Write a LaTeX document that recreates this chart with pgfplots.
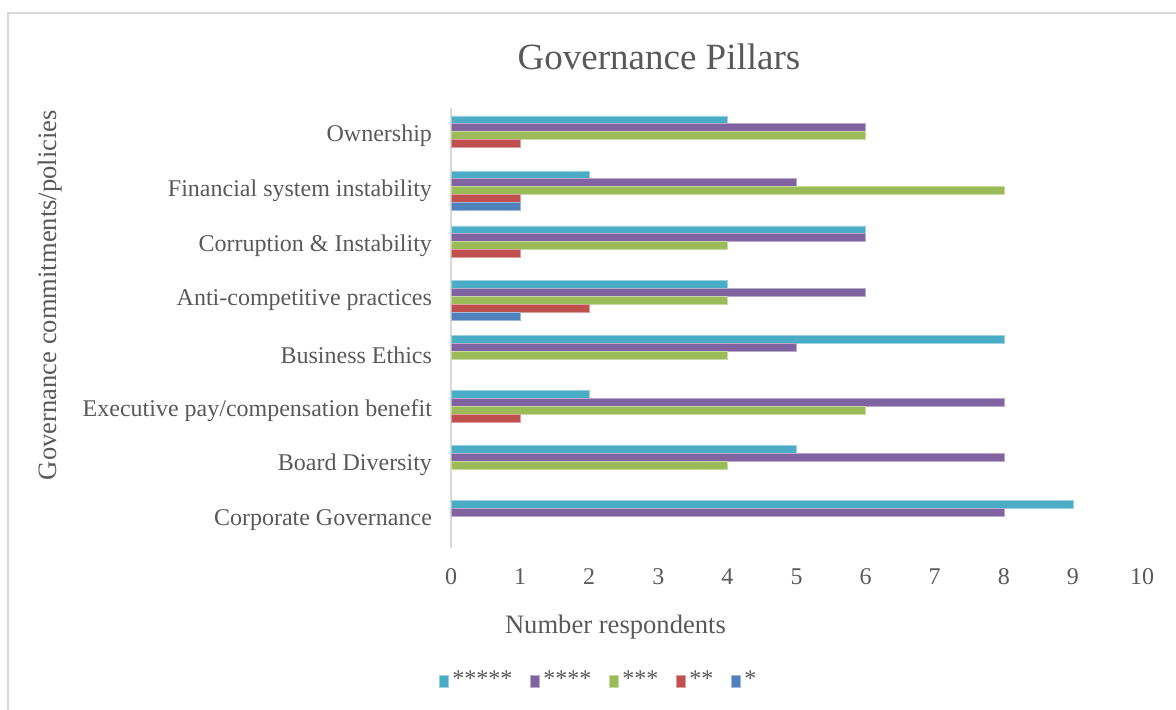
\documentclass[border=0pt]{standalone}
\usepackage{fontspec}
\setmainfont{Liberation Serif}
\usepackage{pgfplots}
\pgfplotsset{compat=1.18}
\definecolor{txt}{HTML}{595959}
\definecolor{cA}{HTML}{4BACC6}
\definecolor{cB}{HTML}{8064A2}
\definecolor{cC}{HTML}{9BBB59}
\definecolor{cD}{HTML}{C0504D}
\definecolor{cE}{HTML}{4F81BD}
\definecolor{frame}{HTML}{D9D9D9}
\begin{document}
\begin{tikzpicture}
\useasboundingbox (0,0) rectangle (588pt,354.5pt);
\draw[frame, line width=0.8pt] (4pt,-2pt) -- (4pt,348pt) -- (592pt,348pt);
\begin{axis}[
  at={(225.5pt,80.75pt)}, anchor=south west,
  scale only axis, width=345.5pt, height=219.75pt,
  xmin=0, xmax=10, ymin=-0.5, ymax=7.5,
  xtick={0,1,...,10},
  ytick={0,...,7},
  yticklabels={Corporate Governance,Board Diversity,Executive pay/compensation benefit,Business Ethics,Anti-competitive practices,Corruption \& Instability,Financial system instability,Ownership},
  axis x line*=bottom,
  x axis line style={draw=none},
  axis y line*=left,
  y axis line style={frame, line width=1pt, -},
  major tick length=0pt,
  /pgf/number format/assume math mode=true,
  tick label style={font=\fontsize{12}{14}\selectfont, text=txt},
  xticklabel style={yshift=-7pt},
  yticklabel style={xshift=-6pt},
  title={Governance Pillars},
  title style={at={(rel axis cs:0.301,1.089)}, anchor=center, font=\fontsize{18.5}{20}\selectfont, text=txt},
  xlabel={Number respondents},
  xlabel style={at={(rel axis cs:0.238,-0.181)}, anchor=center, font=\fontsize{13.3}{15}\selectfont, text=txt},
  ylabel={Governance commitments/policies},
  ylabel style={at={(rel axis cs:-0.58,0.5745)}, anchor=center, rotate=0, font=\fontsize{13.3}{15}\selectfont, text=txt},
  xbar, bar width=3.9pt,
  legend columns=5,
  legend style={at={(rel axis cs:0.2156,-0.3015)}, anchor=center, draw=none, fill=none,
    font=\fontsize{12}{14}\selectfont, text=txt,
    /tikz/every even column/.append style={column sep=7pt}},
  legend image code/.code={\fill[#1] (0.5pt,-3.6pt) rectangle (4.7pt,2.4pt);},
]
\addplot[fill=cA, draw=cA!55!white, line width=0.3pt, bar shift=7.8pt] coordinates {(9,0) (5,1) (2,2) (8,3) (4,4) (6,5) (2,6) (4,7)};
\addplot[fill=cB, draw=cB!55!white, line width=0.3pt, bar shift=3.9pt] coordinates {(8,0) (8,1) (8,2) (5,3) (6,4) (6,5) (5,6) (6,7)};
\addplot[fill=cC, draw=cC!55!white, line width=0.3pt, bar shift=0pt] coordinates {(4,1) (6,2) (4,3) (4,4) (4,5) (8,6) (6,7)};
\addplot[fill=cD, draw=cD!55!white, line width=0.3pt, bar shift=-3.9pt] coordinates {(1,2) (2,4) (1,5) (1,6) (1,7)};
\addplot[fill=cE, draw=cE!55!white, line width=0.3pt, bar shift=-7.8pt] coordinates {(1,4) (1,6)};
\legend{*****,****,***,**,*}
\end{axis}
\end{tikzpicture}
\end{document}
